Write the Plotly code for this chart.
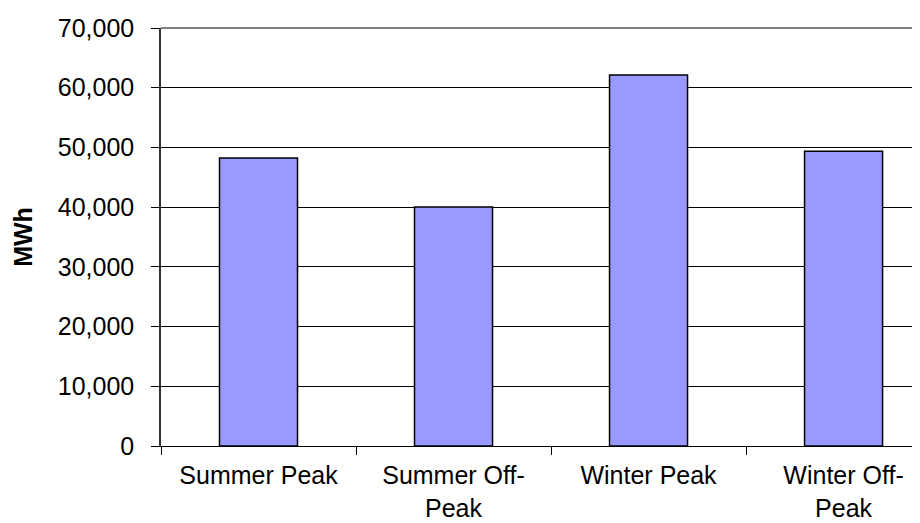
import plotly.graph_objects as go

categories = ["Summer Peak", "Summer Off-<br>Peak", "Winter Peak", "Winter Off-<br>Peak"]
values = [48240, 40030, 62140, 49380]
y_ticks = [0, 10000, 20000, 30000, 40000, 50000, 60000, 70000]
y_tick_labels = ["0", "10,000", "20,000", "30,000", "40,000", "50,000", "60,000", "70,000"]

fig = go.Figure()
fig.add_trace(go.Bar(
    x=categories, y=values,
    marker=dict(color="#9999FF", line=dict(color="#000000", width=1.5)),
    width=0.4,
))

xfont = dict(family="Liberation Sans, Arial, sans-serif", size=25, color="#000000")
yfont = dict(family="Liberation Sans, Arial, sans-serif", size=25, color="#000000")
fig.update_layout(
    width=920, height=523,
    margin=dict(l=153, r=0, t=20, b=85),
    paper_bgcolor="white", plot_bgcolor="white",
    font=yfont, showlegend=False,
    xaxis=dict(
        range=[-0.5, 3.433],
        showline=True, linecolor="#000000", linewidth=1,
        ticks="outside", tickson="boundaries", ticklen=8, tickcolor="#000000",
        showgrid=False, tickfont=xfont, ticklabelstandoff=7,
    ),
    yaxis=dict(
        range=[0, 70000],
        tickvals=y_ticks, ticktext=y_tick_labels,
        showline=True, linecolor="#333333", linewidth=1.5,
        ticks="outside", ticklen=8, tickcolor="#000000",
        showgrid=True, gridcolor="#000000", gridwidth=1,
        tickfont=yfont, ticklabelstandoff=12,
        title=dict(text="<b>MWh</b>", font=yfont, standoff=18),
    ),
)
fig.add_shape(type="line", xref="paper", yref="paper", x0=0, x1=1, y0=1, y1=1,
              line=dict(color="#808080", width=2))
fig.write_html("out.html")
